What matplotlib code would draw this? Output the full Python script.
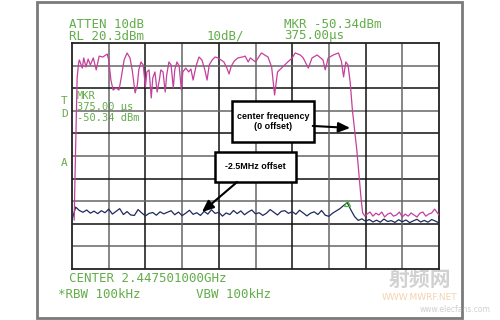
import numpy as np
import matplotlib.pyplot as plt
from matplotlib.patches import Rectangle
from matplotlib import font_manager

# --- screen settings ---
ref_level = 20.3        # dBm, top of screen
db_per_div = 10
sweep_us = 500          # zero span, time axis
n_div = 10

# --- channel power vs time, centre frequency (0 offset) ---
mag_t = [3, 4, 6, 7, 9, 10, 14, 16, 19, 22, 25, 29, 33, 37, 42, 48, 50, 53, 56, 60,
         64, 67, 71, 75, 79, 82, 86, 89, 91, 94, 97, 100, 102, 105, 108, 110, 113, 116,
         119, 121, 124, 127, 129, 132, 135, 138, 140, 143, 146, 149, 151, 155, 159, 162,
         165, 169, 173, 177, 181, 184, 187, 191, 195, 199, 203, 207, 211, 214, 217, 221,
         226, 232, 236, 240, 243, 250, 258, 267, 272, 276, 280, 287, 294, 300, 304, 311,
         315, 322, 327, 334, 342, 345, 349, 356, 363, 367, 370, 373, 376, 379, 382, 385,
         388, 391, 394, 396, 399, 402, 406, 410, 414, 418, 422, 426, 430, 434, 438, 442,
         446, 450, 454, 458, 462, 466, 470, 474, 478, 482, 486, 490, 494, 497, 500]
mag_db = [-58.0, -40.3, -10.0, 4.8, 11.5, 12.8, 9.2, 13.7, 9.7, 13.2, 10.6, 13.7, 8.4,
          14.5, 14.1, 15.4, 12.8, 3.9, -0.5, 0.4, -0.5, 4.8, 12.8, 15.9, 13.7, 8.4, -1.8,
          1.7, 8.4, 11.9, 10.6, 0.8, 7.5, 8.4, -4.0, 4.8, 7.5, -1.4, 3.9, 8.4, 7.5, -1.4,
          6.1, 11.9, 10.6, 0.4, 8.4, 11.9, 10.1, -0.5, 7.5, 9.2, 7.5, 8.8, 3.9, 10.1, 14.1,
          12.8, 8.4, 3.9, 10.6, 12.8, 14.1, 13.7, 12.8, 11.9, 9.2, 6.6, 10.1, 12.3, 13.7,
          14.1, 14.5, 11.9, 13.7, 11.9, 15.9, 14.1, 9.7, -2.7, 7.5, 9.7, 11.9, 13.7, 15.9,
          15.0, 13.7, 9.2, 13.7, 15.0, 12.8, 8.4, 13.7, 15.0, 15.9, 12.3, 5.3, 11.9, 10.6,
          3.0, -9.3, -18.2, -27.0, -38.1, -49.2, -54.9, -56.3, -55.4, -54.5, -56.3, -55.0,
          -55.8, -54.5, -56.7, -55.4, -54.9, -56.3, -55.8, -54.5, -56.7, -55.4, -56.3, -54.9,
          -55.8, -56.7, -55.0, -54.5, -56.3, -55.4, -54.9, -53.2, -54.5, -55.8]

# --- adjacent channel, -2.5 MHz offset, sampled every 5 us ---
adj_db = [-58.0, -52.3, -53.8, -54.6, -53.6, -55.0, -54.1, -55.2, -53.9, -54.8,
          -53.2, -55.4, -54.2, -53.0, -55.6, -54.3, -55.8, -56.0, -53.4, -54.9,
          -56.2, -55.1, -54.7, -55.9, -54.4, -55.3, -54.6, -53.9, -55.7, -54.5,
          -56.1, -55.0, -53.7, -55.5, -54.8, -56.0, -54.2, -55.4, -53.5, -55.1,
          -54.6, -56.3, -54.9, -55.6, -53.8, -55.2, -54.0, -55.7, -54.5, -53.6,
          -55.3, -54.8, -56.0, -55.0, -53.4, -54.6, -55.8, -54.2, -53.9, -55.1,
          -54.3, -55.5, -53.7, -54.9, -56.2, -55.0, -54.4, -55.6, -53.8, -55.9,
          -56.4, -55.0, -54.0, -53.0, -51.6, -50.34, -53.6, -56.5, -58.2, -57.5,
          -58.6, -57.8, -58.9, -58.1, -59.0, -57.6, -58.7, -58.3, -59.1, -57.9,
          -58.8, -58.0, -59.2, -58.4, -57.7, -58.9, -58.2, -59.0, -57.8, -58.5, -59.3]
adj_t = np.arange(len(adj_db)) * 5

mkr_t, mkr_db = 375.0, -50.34

GREEN = '#62ad4a'
MONO = 'DejaVu Sans Mono'

# a condensed face for the callouts if one is around
try:
    font_manager.findfont('Liberation Sans Narrow', fallback_to_default=False)
    NARROW, CALL_FS = 'Liberation Sans Narrow', 7.5
except ValueError:
    NARROW, CALL_FS = 'Liberation Sans', 6.4

fig = plt.figure(figsize=(5, 3.2), dpi=100)
fig.set_facecolor('white')

# pixel-space overlay for the bezel and screen annotations
bg = fig.add_axes([0, 0, 1, 1], zorder=0)
bg.set_xlim(0, 500)
bg.set_ylim(320, 0)
bg.axis('off')
bg.add_patch(Rectangle((37, 1.5), 425, 316.5, fill=False, ec='#7a7a7a', lw=2))

screen_txt = [
    (69, 24.5, 'ATTEN 10dB', 9),
    (69, 36, 'RL 20.3dBm', 9),
    (207, 36, '10dB/', 9),
    (284, 24.5, 'MKR -50.34dBm', 9),
    (284, 36, '375.00\u00b5s', 9),
    (61, 101, 'T', 8),
    (61, 114, 'D', 8),
    (61, 163, 'A', 8),
    (77, 96, 'MKR', 7.5),
    (77, 106.5, '375.00 \u00b5s', 7.5),
    (77, 118, '-50.34 dBm', 7.5),
    (69, 279, 'CENTER 2.447501000GHz', 9),
    (58, 294, '*RBW 100kHz', 9),
    (196, 294, 'VBW 100kHz', 9),
]
for x, y, s, fs in screen_txt:
    bg.text(x, y, s, color=GREEN, family=MONO, fontsize=fs,
            ha='left', va='center', zorder=5)

# faint site watermark in the lower right
bg.text(420, 279, '射频网', family=['Noto Sans CJK SC', 'DejaVu Sans'],
        fontsize=15, fontweight='bold', color='#9a9a9a', alpha=0.45,
        ha='center', va='center')
bg.text(420, 297, 'WWW.MWRF.NET', color='#e8b070', alpha=0.55, fontsize=6.5,
        ha='center', va='center')
bg.text(455, 309, 'www.elecfans.com', color='#a0a0a0', alpha=0.5, fontsize=5.5,
        ha='center', va='center')

# --- analyzer graticule ---
ax = fig.add_axes([72 / 500, 51 / 320, 367 / 500, 226 / 320], zorder=2)
ax.patch.set_alpha(0)
bottom = ref_level - n_div * db_per_div
ax.set_xlim(0, sweep_us)
ax.set_ylim(bottom, ref_level)
ax.set_xticks([])
ax.set_yticks([])
for sp in ax.spines.values():
    sp.set_color('#222')
    sp.set_linewidth(1.3)

for i in range(1, n_div):
    c = '#111' if i % 2 == 0 else '#666'
    ax.axvline(i * sweep_us / n_div, color=c, lw=1.1, zorder=1)
    ax.axhline(bottom + i * db_per_div, color=c, lw=1.1, zorder=1)

ax.plot(adj_t, adj_db, color='#1f2b5e', lw=0.9, zorder=3)
ax.plot(mag_t, mag_db, color='#c4409c', lw=0.9, zorder=4)
ax.plot([mkr_t], [mkr_db], marker='^', ms=4, mfc='none', mec='#55b040',
        mew=0.9, zorder=5)

# callout boxes (us, dBm) and their arrows
arrow = dict(arrowstyle='-|>,head_length=0.7,head_width=0.3', color='black',
             lw=1.5, shrinkA=0, shrinkB=0)
callouts = [
    ('center frequency\n(0 offset)', (218, -23.5, 112, 18.1), (328, -16.4), (379, -17.3)),
    ('-2.5MHz offset', (195, -41.2, 110, 13.3), (225, -41.2), (177, -54.5)),
]
for label, (x0, y0, w, h), tail, head in callouts:
    ax.add_patch(Rectangle((x0, y0), w, h, fc='white', ec='black', lw=1.8,
                           zorder=6))
    ax.text(x0 + w / 2, y0 + h / 2, label, ha='center', va='center',
            family=NARROW, fontweight='bold', fontsize=CALL_FS,
            linespacing=1.25, zorder=7)
    ax.annotate('', xy=head, xytext=tail, arrowprops=arrow, zorder=6)

fig.savefig('out.png', dpi=100)
